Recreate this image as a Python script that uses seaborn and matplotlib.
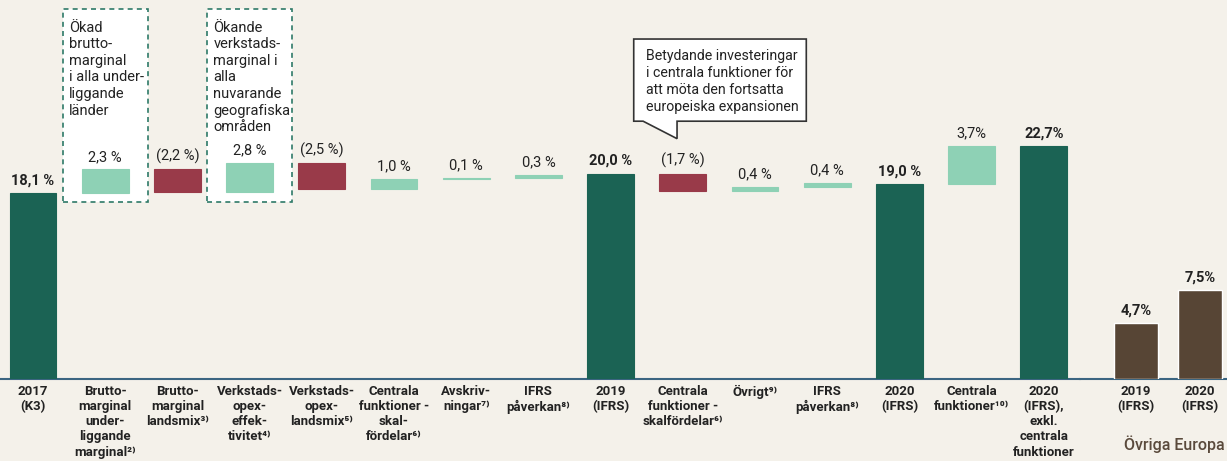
import matplotlib
matplotlib.use("Agg")
import matplotlib.pyplot as plt
from matplotlib.patches import Rectangle, Polygon
import seaborn as sns
import pandas as pd

# --- data ---
steps = ["2017\n(K3)",
         "Brutto-\nmarginal\nunder-\nliggande\nmarginal²⁾",
         "Brutto-\nmarginal\nlandsmix³⁾",
         "Verkstads-\nopex-\neffek-\ntivitet⁴⁾",
         "Verkstads-\nopex-\nlandsmix⁵⁾",
         "Centrala\nfunktioner -\nskal-\nfördelar⁶⁾",
         "Avskriv-\nningar⁷⁾",
         "IFRS\npåverkan⁸⁾",
         "2019\n(IFRS)",
         "Centrala\nfunktioner -\nskalfördelar⁶⁾",
         "Övrigt⁹⁾",
         "IFRS\npåverkan⁸⁾",
         "2020\n(IFRS)",
         "Centrala\nfunktioner¹⁰⁾",
         "2020\n(IFRS),\nexkl.\ncentrala\nfunktioner"]
values = [18.1, 2.3, -2.2, 2.8, -2.5, 1.0, 0.1, 0.3, 20.0, -1.7, 0.4, 0.4, 19.0, 3.7, 22.7]
kinds = ["total", "up", "down", "up", "down", "up", "up", "up", "total",
         "down", "up", "up", "total", "up", "total"]
value_labels = ["18,1 %", "2,3 %", "(2,2 %)", "2,8 %", "(2,5 %)", "1,0 %", "0,1 %", "0,3 %",
                "20,0 %", "(1,7 %)", "0,4 %", "0,4 %", "19,0 %", "3,7%", "22,7%"]

europe_years = ["2019\n(IFRS)", "2020\n(IFRS)"]
europe_values = [4.7, 7.5]
europe_labels = ["4,7%", "7,5%"]

# --- colours ---
BG = "#f4f1ea"
DARK = "#1b6354"
MINT = "#8ed1b5"
RED = "#993a49"
BROWN = "#574535"
LINE = "#3b6581"
TXT = "#222222"
colors = {"total": DARK, "up": MINT, "down": RED}

sns.set_theme(style="white")
plt.rcParams["font.family"] = ["Roboto", "DejaVu Sans"]

# waterfall bottoms
bottoms, running = [], 0.0
for v, k in zip(values, kinds):
    if k == "total":
        bottoms.append(0.0)
        running = v
    else:
        bottoms.append(running if v > 0 else running + v)
        running += v
heights = [abs(v) for v in values]
ids = [f"s{i}" for i in range(len(steps))]
df = pd.DataFrame({"id": ids, "height": heights, "bottom": bottoms, "kind": kinds})

fig = plt.figure(figsize=(12.27, 4.61), dpi=100, facecolor=BG)
ax1 = fig.add_axes([0.5 / 1227, 82 / 461, 1079.8 / 1227, 379 / 461])
ax2 = fig.add_axes([1080.3 / 1227, 82 / 461, 151.7 / 1227, 379 / 461])

for k, c in colors.items():
    sub = df[df["kind"] == k]
    sns.barplot(data=sub, x="id", y="height", order=ids, color=c, width=0.65,
                bottom=sub["bottom"].values, edgecolor=c, linewidth=0.8,
                errorbar=None, ax=ax1, zorder=3, saturation=1)

for i, (h, b, lab, k) in enumerate(zip(heights, bottoms, value_labels, kinds)):
    ax1.annotate(lab, (i, b + h), xytext=(0, 4), textcoords="offset points",
                 ha="center", va="bottom", fontsize=10.5, color=TXT,
                 fontweight="bold" if k == "total" else "normal")

sns.barplot(x=europe_years, y=europe_values, color=BROWN, width=0.70,
            errorbar=None, ax=ax2, zorder=3, saturation=1)
for i, (v, lab) in enumerate(zip(europe_values, europe_labels)):
    ax2.annotate(lab, (i, v), xytext=(0, 4), textcoords="offset points",
                 ha="center", va="bottom", fontsize=10.5, color=TXT, fontweight="bold")

ax1.set_xlim(-0.45, 14.505)
ax1.set_ylim(0, 36.9)
ax2.set_xlim(-0.87, 1.5)
ax2.set_ylim(0, 32.0)

for ax in (ax1, ax2):
    ax.set_facecolor(BG)
    for s in ("top", "right", "left"):
        ax.spines[s].set_visible(False)
    ax.spines["bottom"].set_color(LINE)
    ax.spines["bottom"].set_linewidth(1.5)
    ax.set_yticks([])
    ax.set_xlabel("")
    ax.set_ylabel("")
    ax.tick_params(axis="x", length=0, pad=4)

ax1.set_xticks(range(len(steps)))
ax1.set_xticklabels(steps, fontsize=9.5, fontweight="bold", color=TXT, linespacing=1.225)
ax2.set_xticks(range(len(europe_years)))
ax2.set_xticklabels(europe_years, fontsize=9.5, fontweight="bold", color=TXT, linespacing=1.225)

# dashed comment boxes
box_texts = [(1.0, "Ökad\nbrutto-\nmarginal\ni alla under-\nliggande\nländer"),
             (3.0, "Ökande\nverkstads-\nmarginal i\nalla\nnuvarande\ngeografiska\nområden")]
for cx, txt in box_texts:
    ax1.add_patch(Rectangle((cx - 0.589, 17.23), 1.178, 18.8, facecolor="white",
                            edgecolor="#2e7a68", linestyle=(0, (3, 2.5)), linewidth=1.2,
                            zorder=1))
    ax1.text(cx - 0.5, 34.9, txt, ha="left", va="top", fontsize=10.5, color=TXT,
             linespacing=1.24, zorder=4)

# callout
ax1.add_patch(Polygon([(8.32, 33.1), (10.71, 33.1), (10.71, 25.1), (8.92, 25.1),
                       (8.92, 23.4), (8.45, 25.1), (8.32, 25.1)], closed=True,
                      facecolor="white", edgecolor="#333333", linewidth=1.2, zorder=4))
ax1.text(8.49, 32.1, "Betydande investeringar\ni centrala funktioner för\natt möta den fortsatta\neuropeiska expansionen",
         ha="left", va="top", fontsize=10.2, color=TXT, linespacing=1.26, zorder=5)

fig.text(1225 / 1227, 1 - 444 / 461, "Övriga Europa", ha="right", va="center",
         fontsize=11.5, fontweight="medium", color="#5a4a3c")

fig.savefig("out.png", dpi=100, facecolor=BG)
